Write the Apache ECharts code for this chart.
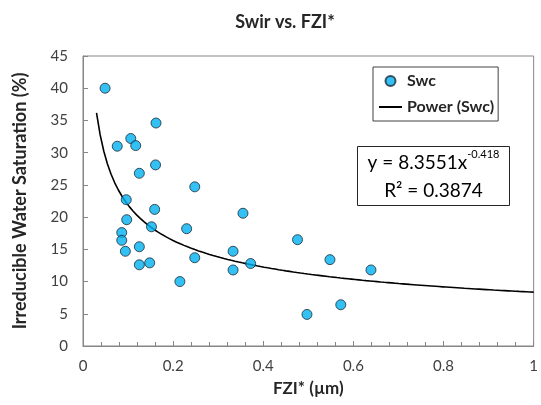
<!DOCTYPE html>
<html>
<head>
<meta charset="utf-8">
<script src="https://cdn.jsdelivr.net/npm/echarts@6/dist/echarts.min.js"></script>
<style>
  html, body { margin: 0; padding: 0; background: #ffffff; }
  #chart { width: 541px; height: 405px; }
</style>
</head>
<body>
<div id="chart"></div>
<script>
// FZI* (µm) and irreducible water saturation Swc (%) for each sample
const fzi = [0.049, 0.076, 0.086, 0.086, 0.094, 0.096, 0.097, 0.106, 0.117, 0.125,
             0.125, 0.125, 0.148, 0.152, 0.159, 0.161, 0.162, 0.215, 0.230, 0.248,
             0.248, 0.333, 0.333, 0.355, 0.372, 0.476, 0.497, 0.548, 0.572, 0.639];
const swc = [40.0, 31.0, 17.6, 16.4, 14.7, 22.7, 19.6, 32.2, 31.1, 26.8,
             15.4, 12.6, 12.9, 18.5, 21.2, 28.1, 34.6, 10.0, 18.2, 24.7,
             13.7, 14.7, 11.8, 20.6, 12.8, 16.5, 4.9, 13.4, 6.4, 11.8];

// Axis tick values
const xTicks = [0, 0.2, 0.4, 0.6, 0.8, 1];
const yTicks = [0, 5, 10, 15, 20, 25, 30, 35, 40, 45];

// Power-law trendline y = a * x^b and its fit quality
const powerCoef = [8.3551];
const powerExp = [-0.418];
const rSquared = [0.3874];
const trendRange = [0.03, 1];

const trend = [];
const steps = 120;
for (let i = 0; i <= steps; i++) {
  const x = trendRange[0] + (trendRange[1] - trendRange[0]) * i / steps;
  trend.push([x, powerCoef[0] * Math.pow(x, powerExp[0])]);
}

const points = fzi.map((x, i) => [x, swc[i]]);

const FONT = 'Lato, "Open Sans", sans-serif';
const chart = echarts.init(document.getElementById('chart'), null, { renderer: 'canvas' });

chart.setOption({
  animation: false,
  backgroundColor: '#ffffff',
  textStyle: { fontFamily: FONT },
  grid: {
    left: 83, right: 5, top: 56, bottom: 59,
    show: true, borderColor: '#868686', borderWidth: 1, backgroundColor: 'transparent'
  },
  xAxis: {
    type: 'value',
    min: xTicks[0], max: xTicks[xTicks.length - 1],
    interval: xTicks[1] - xTicks[0],
    name: 'FZI* (µm)',
    nameLocation: 'middle',
    nameGap: 34,
    nameTextStyle: { fontFamily: FONT, fontSize: 17, fontWeight: 'bold', color: '#262626' },
    axisLine: { lineStyle: { color: '#868686', width: 1 } },
    axisTick: { inside: true, length: 5, lineStyle: { color: '#868686' } },
    minorTick: { show: true, splitNumber: 5, length: 4, lineStyle: { color: '#868686' } },
    splitLine: { show: false },
    axisLabel: { fontFamily: FONT, fontSize: 15, color: '#404040', margin: 13 }
  },
  yAxis: {
    type: 'value',
    min: yTicks[0], max: yTicks[yTicks.length - 1],
    interval: yTicks[1] - yTicks[0],
    name: 'Irreducible Water Saturation (%)',
    nameLocation: 'middle',
    nameGap: 54,
    nameTextStyle: { fontFamily: FONT, fontSize: 18, fontWeight: 'bold', color: '#262626' },
    axisLine: { show: true, lineStyle: { color: '#868686', width: 1 } },
    axisTick: { show: true, inside: true, length: 5, lineStyle: { color: '#868686' } },
    splitLine: { show: false },
    axisLabel: { fontFamily: FONT, fontSize: 15, color: '#404040', margin: 15 }
  },
  legend: {
    orient: 'vertical',
    left: 373, top: 67,
    padding: [6, 4, 6, 5],
    itemGap: 10,
    itemWidth: 23, itemHeight: 10,
    borderColor: '#404040', borderWidth: 1,
    backgroundColor: '#ffffff',
    textStyle: { fontFamily: FONT, fontSize: 16, fontWeight: 'bold', color: '#262626' },
    data: [
      { name: 'Swc', icon: 'circle' },
      { name: 'Power (Swc)', itemStyle: { color: 'transparent', borderColor: 'transparent', borderWidth: 0 } }
    ]
  },
  graphic: [
    {
      type: 'text',
      x: 285, y: 22,
      style: {
        text: 'Swir vs. FZI*',
        font: 'bold 18px ' + FONT,
        fill: '#262626',
        align: 'center',
        verticalAlign: 'middle'
      }
    },
    {
      type: 'group',
      left: 357, top: 146,
      children: [
        {
          type: 'rect',
          shape: { x: 0, y: 0, width: 152, height: 59 },
          style: { fill: '#ffffff', stroke: '#262626', lineWidth: 1 }
        },
        {
          type: 'text',
          x: 76, y: 30,
          style: {
            text: '{n|y = ' + powerCoef[0] + 'x}{s|' + powerExp[0] + '}\n{n|R² = ' + rSquared[0] + '}',
            align: 'center',
            verticalAlign: 'middle',
            rich: {
              n: { fontFamily: FONT, fontSize: 19, color: '#000000', lineHeight: 28 },
              s: { fontFamily: FONT, fontSize: 11, color: '#000000', lineHeight: 12, verticalAlign: 'top' }
            }
          }
        }
      ]
    }
  ],
  series: [
    {
      name: 'Swc',
      type: 'scatter',
      data: points,
      symbol: 'circle',
      symbolSize: 10,
      itemStyle: { color: '#00B0F0', borderColor: '#1c2b3a', borderWidth: 1 },
      z: 3
    },
    {
      name: 'Power (Swc)',
      type: 'line',
      data: trend,
      symbol: 'none',
      smooth: false,
      lineStyle: { color: '#000000', width: 1.6 },
      itemStyle: { color: '#000000' },
      z: 2
    }
  ]
});
</script>
</body>
</html>
